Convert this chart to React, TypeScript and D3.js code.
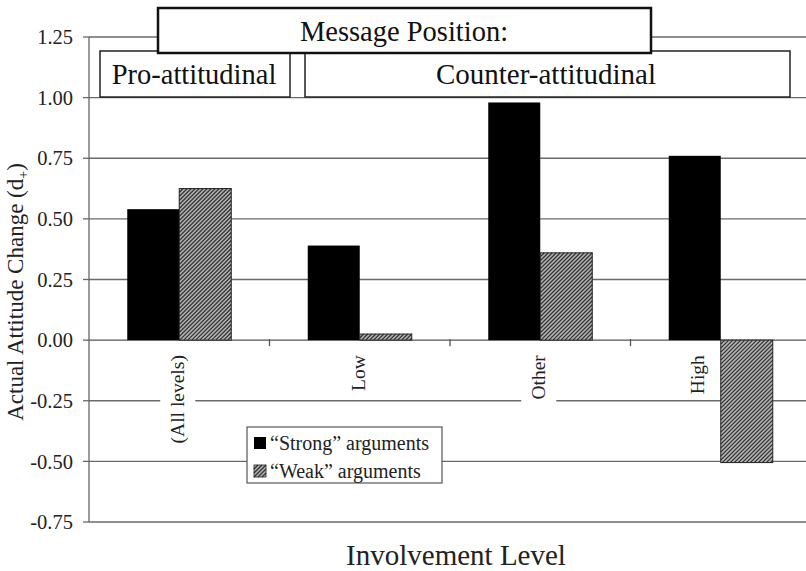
import React from "react";
import * as d3 from "d3";

const categories = ["(All levels)", "Low", "Other", "High"];
const strongValues = [0.54, 0.39, 0.98, 0.76];
const weakValues = [0.625, 0.025, 0.36, -0.505];
const yTicks = [1.25, 1.0, 0.75, 0.5, 0.25, 0.0, -0.25, -0.5, -0.75];
const seriesNames = ["\u201CStrong\u201D arguments", "\u201CWeak\u201D arguments"];

const W = 806;
const H = 571;
const FF = "Liberation Serif";
const CSS = `svg.chart text, svg.chart tspan { font-family: "Liberation Serif", "Times New Roman", Tinos, serif !important; }`;

function hatchSegments(x0: number, x1: number, ya: number, yb: number, step: number) {
  const segs: [number, number, number, number][] = [];
  for (let c = x0 + ya; c <= x1 + yb; c += step) {
    const xs = Math.max(x0, c - yb);
    const xe = Math.min(x1, c - ya);
    if (xe > xs) segs.push([xs, c - xs, xe, c - xe]);
  }
  return segs;
}

function HatchRect({ x, y, w, h, strokeW }: { x: number; y: number; w: number; h: number; strokeW: number }) {
  const segs = hatchSegments(x, x + w, y, y + h, 4);
  return (
    <g>
      <rect x={x} y={y} width={w} height={h} fill="#b4b4b4" />
      {segs.map((s, i) => (
        <line key={i} x1={s[0]} y1={s[1]} x2={s[2]} y2={s[3]} stroke="#333" strokeWidth={1.3} />
      ))}
      <rect x={x} y={y} width={w} height={h} fill="none" stroke="#222" strokeWidth={strokeW} />
    </g>
  );
}

export default function App() {
  const left = 89;
  const right = 811;
  const top = 37;
  const bottom = 522;
  const x = d3.scaleBand<string>().domain(categories).range([left, right]).paddingInner(0).paddingOuter(0);
  const y = d3.scaleLinear().domain([-0.75, 1.25]).range([bottom, top]);
  const bw = 52;
  const y0 = y(0);
  const labelOffset = [0, 0, 0, -22];

  return (
    <div style={{ fontFamily: '"Liberation Serif", serif' }}>
      <style>{CSS}</style>
      <svg className="chart" width={W} height={H} style={{ position: "absolute", left: 0, top: 0, background: "#fff", fontFamily: '"Liberation Serif", serif' }}>
        <rect x={0} y={0} width={W} height={H} fill="#fff" />
        {yTicks.map((t) => (
          <line key={t} x1={left} x2={right} y1={y(t)} y2={y(t)} stroke={t === 0 ? "#555" : "#6a6a6a"} strokeWidth={1.3} />
        ))}
        <line x1={left} x2={left} y1={top} y2={bottom} stroke="#666" strokeWidth={1.3} />
        {yTicks.map((t) => (
          <g key={"t" + t}>
            <line x1={left - 6} x2={left} y1={y(t)} y2={y(t)} stroke="#666" strokeWidth={1.3} />
            <text fontFamily={FF} x={73} y={y(t)} dy="0.35em" textAnchor="end" fontSize={20.5} fill="#222">
              {t.toFixed(2)}
            </text>
          </g>
        ))}
        {categories.slice(1).map((c) => (
          <line key={"ct" + c} x1={x(c)!} x2={x(c)!} y1={y0 - 1} y2={y0 + 6} stroke="#555" strokeWidth={1.3} />
        ))}
        {categories.map((c, i) => {
          const cx = x(c)! + x.bandwidth() / 2 + labelOffset[i];
          const len = c.length * 7.6 + 8;
          return (
            <g key={"cl" + c} transform={`translate(${cx + 5},${y0 + 15}) rotate(-90)`}>
              <rect x={-len - 4} y={-24} width={len + 6} height={35} fill="#fff" />
              <text fontFamily={FF} x={0} y={0} textAnchor="end" fontSize={19.5} fill="#222">
                {c}
              </text>
            </g>
          );
        })}
        {categories.map((c, i) => {
          const cx = x(c)! + x.bandwidth() / 2;
          const sv = strongValues[i];
          const wv = weakValues[i];
          return (
            <g key={"b" + c}>
              <rect x={cx - bw} y={Math.min(y(sv), y0)} width={bw} height={Math.abs(y(sv) - y0)} fill="#000" />
              <HatchRect x={cx} y={Math.min(y(wv), y0)} w={bw} h={Math.abs(y(wv) - y0)} strokeW={1} />
            </g>
          );
        })}
        <g>
          <rect x={247} y={427} width={195} height={56} fill="#fff" stroke="#555" strokeWidth={1.2} />
          <rect x={254} y={437} width={12} height={12} fill="#000" />
          <text fontFamily={FF} x={270} y={443} dy="0.35em" fontSize={20} fill="#222">{seriesNames[0]}</text>
          <HatchRect x={254} y={465} w={12} h={12} strokeW={0.8} />
          <text fontFamily={FF} x={270} y={471} dy="0.35em" fontSize={20} fill="#222">{seriesNames[1]}</text>
        </g>
        <rect x={100} y={51} width={190} height={46} fill="#fff" stroke="#222" strokeWidth={1.5} />
        <text fontFamily={FF} x={194} y={84} textAnchor="middle" fontSize={28.5} fill="#111">Pro-attitudinal</text>
        <rect x={305} y={51} width={485} height={46} fill="#fff" stroke="#222" strokeWidth={1.5} />
        <text fontFamily={FF} x={546} y={84} textAnchor="middle" fontSize={29} fill="#111">Counter-attitudinal</text>
        <rect x={158} y={8} width={493} height={45} fill="#fff" stroke="#111" strokeWidth={2.5} />
        <text fontFamily={FF} x={404} y={41} textAnchor="middle" fontSize={28.5} fill="#111">Message Position:</text>
        <text fontFamily={FF} transform={`translate(23,292) rotate(-90)`} textAnchor="middle" fontSize={23} fill="#222">
          Actual Attitude Change (d<tspan fontSize={14} dy="5">+</tspan><tspan dy="-5">)</tspan>
        </text>
        <text fontFamily={FF} x={456} y={565} textAnchor="middle" fontSize={29} fill="#222">Involvement Level</text>
      </svg>
    </div>
  );
}
